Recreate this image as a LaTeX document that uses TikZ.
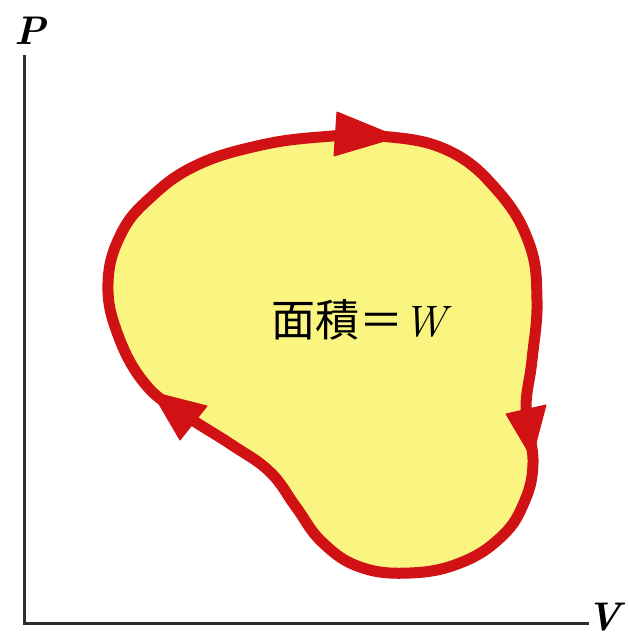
\documentclass[tikz,border=0pt]{standalone}
\usepackage{fontspec}
\newfontfamily\cjk{Noto Sans CJK TC}
\definecolor{loopred}{RGB}{208,18,20}
\definecolor{loopfill}{RGB}{250,244,128}
\definecolor{axisgray}{RGB}{45,45,45}
\tikzset{
  axisline/.style={draw=axisgray, line width=3pt},
  loopline/.style={draw=loopred, line width=11pt, line join=round},
  headtri/.style={fill=loopred, draw=loopred, line width=1pt, line join=round},
  axislabel/.style={font=\fontsize{40}{40}\selectfont\bfseries\itshape, inner sep=0pt}
}
\begin{document}
\begin{tikzpicture}[x=1pt,y=-1pt]
\useasboundingbox (0,0) rectangle (628,640);
% axes
\coordinate (o) at (24,623);
\coordinate (ytop) at (24,55);
\coordinate (xend) at (589,623);
\draw[axisline] (ytop) -- (o) -- (xend);
\node[axislabel] (P) at (30,31) {P};
\node[axislabel] (V) at (604,617) {V};
% loop
\path[loopline, fill=loopfill] plot[smooth cycle, tension=0.7] coordinates {
 (320,137) (380,136) (447,150) (497,190) (529,243) (537,300) (532,360)
 (526,410) (533,463) (523,505) (500,538) (460,563) (410,573) (360,567)
 (322,542) (296,507) (270,472) (232,445) (185,415) (146,385) (118,335)
 (108,283) (121,234) (150,198) (195,166) (257,146)
};
% arrowheads
\coordinate (a1) at (398,137);
\coordinate (b1) at (337,112);
\coordinate (c1) at (334,156);
\fill[headtri] (a1) -- (b1) -- (c1) -- cycle;
\coordinate (a2) at (532,458);
\coordinate (b2) at (506,414);
\coordinate (c2) at (546,405);
\fill[headtri] (a2) -- (b2) -- (c2) -- cycle;
\coordinate (a3) at (152,392);
\coordinate (b3) at (207,406);
\coordinate (c3) at (180,440);
\fill[headtri] (a3) -- (b3) -- (c3) -- cycle;
% label
\node[inner sep=0pt, font=\fontsize{44}{44}\selectfont] (area) at (362,320) {{\cjk 面積＝}\textit{W}};
\end{tikzpicture}
\end{document}
